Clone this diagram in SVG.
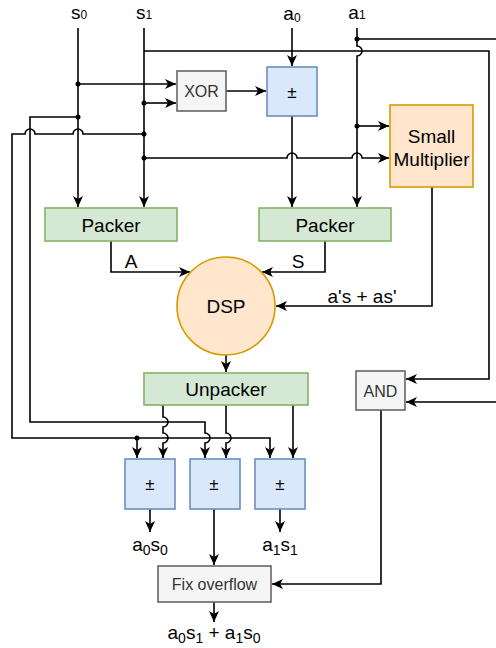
<svg xmlns="http://www.w3.org/2000/svg" width="496" height="648" viewBox="0 0 496 648">
<style>
.w{fill:none;stroke:#000;stroke-width:1.6}
.wa{fill:none;stroke:#000;stroke-width:1.6;marker-end:url(#arr)}
.dot{fill:#000}
.t{font-family:"Liberation Sans",Arial,sans-serif;fill:#000;text-anchor:middle}
.big{font-size:19px}
.mid{font-size:17px}
.sm{font-size:16px;fill:#333}
.green{fill:#d5e8d4;stroke:#82b366;stroke-width:1.6}
.blue{fill:#dae8fc;stroke:#6c8ebf;stroke-width:1.6}
.orange{fill:#ffe6cc;stroke:#d79b00;stroke-width:1.6}
.gray{fill:#f5f5f5;stroke:#666;stroke-width:1.6}
</style>
<defs>
<marker id="arr" markerUnits="userSpaceOnUse" markerWidth="12" markerHeight="10" refX="11" refY="5" orient="auto" viewBox="0 0 12 10">
<path d="M0,0 L11,5 L0,10 L3,5 Z" fill="#000"/>
</marker>
</defs>

<g id="labels">
<text class="t big" x="79" y="19">s<tspan font-size="12">0</tspan></text>
<text class="t big" x="144" y="19">s<tspan font-size="12">1</tspan></text>
<text class="t big" x="292" y="20">a<tspan font-size="12" dy="2">0</tspan></text>
<text class="t big" x="357" y="19">a<tspan font-size="12">1</tspan></text>
<text class="t big" x="131" y="268">A</text>
<text class="t big" x="298" y="268">S</text>
<text class="t big" x="362" y="303">a's + as'</text>
<text class="t big" x="150" y="551">a<tspan font-size="14" dy="4">0</tspan><tspan dy="-4">s</tspan><tspan font-size="14" dy="4">0</tspan></text>
<text class="t big" x="280" y="551">a<tspan font-size="14" dy="4">1</tspan><tspan dy="-4">s</tspan><tspan font-size="14" dy="4">1</tspan></text>
<text class="t big" x="214" y="639">a<tspan font-size="14" dy="4">0</tspan><tspan dy="-4">s</tspan><tspan font-size="14" dy="4">1</tspan><tspan dy="-4"> + a</tspan><tspan font-size="14" dy="4">1</tspan><tspan dy="-4">s</tspan><tspan font-size="14" dy="4">0</tspan></text>
</g>

<g id="connectors">
<!-- s0, s1 verticals -->
<path class="wa" d="M78,28 V207"/>
<path class="wa" d="M144,28 V207"/>
<!-- to XOR -->
<path class="wa" d="M78,84 H176"/>
<path class="wa" d="M144,103 H176"/>
<!-- XOR to +- -->
<path class="wa" d="M226,91 H266"/>
<!-- a0 to +- -->
<path class="wa" d="M292,28 V66"/>
<!-- +- to packer -->
<path class="wa" d="M292,116 V207"/>
<!-- a1 vertical with hop at 51 -->
<path class="wa" d="M357,28 V46 a5,5 0 0 1 0,10 V207"/>
<!-- a1 to AND lower (via off-canvas) -->
<path class="wa" d="M357,39 H502 V402 H406"/>
<!-- s1 to AND upper -->
<path class="wa" d="M144,51 H489 V379 H406"/>
<!-- s1 to small multiplier -->
<path class="wa" d="M144,158 H287 a5,5 0 0 1 10,0 H352 a5,5 0 0 1 10,0 H389"/>
<!-- a1 to small multiplier -->
<path class="wa" d="M357,126 H389"/>
<!-- s0 loop to middle +- -->
<path class="wa" d="M78,117 H30 V422 H205 V433 a5,5 0 0 1 0,10 V458"/>
<!-- s1 loop to +- boxes -->
<path class="wa" d="M144,134 H83 a5,5 0 0 0 -10,0 H35 a5,5 0 0 0 -10,0 H12 V438 H270 V458"/>
<path class="wa" d="M137,438 V458"/>
<!-- small multiplier to DSP -->
<path class="wa" d="M432,187 V306 H276"/>
<!-- packers to DSP -->
<path class="wa" d="M111,241 V272 H190"/>
<path class="wa" d="M325,241 V272 H262"/>
<!-- DSP to unpacker -->
<path class="wa" d="M226,355 V372"/>
<!-- unpacker outputs -->
<path class="wa" d="M163,405 V417 a5,5 0 0 1 0,10 V433 a5,5 0 0 1 0,10 V458"/>
<path class="wa" d="M226,405 V433 a5,5 0 0 1 0,10 V458"/>
<path class="wa" d="M293,405 V458"/>
<!-- box outputs -->
<path class="wa" d="M150,509 V532"/>
<path class="wa" d="M280,509 V532"/>
<path class="wa" d="M214,509 V565"/>
<path class="wa" d="M214,602 V622"/>
<!-- AND to fix overflow -->
<path class="wa" d="M381,410 V584 H272"/>
<!-- junction dots -->
<circle class="dot" cx="78" cy="84" r="2.5"/>
<circle class="dot" cx="144" cy="103" r="2.5"/>
<circle class="dot" cx="78" cy="117" r="2.5"/>
<circle class="dot" cx="144" cy="134" r="2.5"/>
<circle class="dot" cx="144" cy="158" r="2.5"/>
<circle class="dot" cx="357" cy="39" r="2.5"/>
<circle class="dot" cx="357" cy="126" r="2.5"/>
<circle class="dot" cx="137" cy="438" r="2.5"/>
</g>

<g id="xor">
<rect class="gray" x="177" y="71" width="49" height="40"/>
<text class="t sm" x="201.5" y="97">XOR</text>
</g>
<g id="pm-top">
<rect class="blue" x="267" y="67" width="50" height="49"/>
<text class="t mid" x="292" y="98">±</text>
</g>
<g id="small-multiplier">
<rect class="orange" x="390" y="105" width="83" height="82"/>
<text class="t big" x="431.5" y="143">Small</text>
<text class="t big" x="431.5" y="166">Multiplier</text>
</g>
<g id="packer-left">
<rect class="green" x="45" y="208" width="132" height="33"/>
<text class="t big" x="111" y="231.5">Packer</text>
</g>
<g id="packer-right">
<rect class="green" x="259" y="208" width="132" height="33"/>
<text class="t big" x="325" y="231.5">Packer</text>
</g>
<g id="dsp">
<circle class="orange" cx="226" cy="306" r="49"/>
<text class="t big" x="226" y="313">DSP</text>
</g>
<g id="unpacker">
<rect class="green" x="144" y="373" width="164" height="32"/>
<text class="t big" x="226" y="396">Unpacker</text>
</g>
<g id="and">
<rect class="gray" x="356" y="371" width="49" height="39"/>
<text class="t sm" x="380.5" y="397">AND</text>
</g>
<g id="pm-1">
<rect class="blue" x="125" y="459" width="50" height="50"/>
<text class="t mid" x="150" y="490">±</text>
</g>
<g id="pm-2">
<rect class="blue" x="190" y="459" width="50" height="50"/>
<text class="t mid" x="214" y="490">±</text>
</g>
<g id="pm-3">
<rect class="blue" x="255" y="459" width="50" height="50"/>
<text class="t mid" x="280" y="490">±</text>
</g>
<g id="fix-overflow">
<rect class="gray" x="158" y="566" width="113" height="36"/>
<text class="t sm" x="214.5" y="590">Fix overflow</text>
</g>
</svg>
